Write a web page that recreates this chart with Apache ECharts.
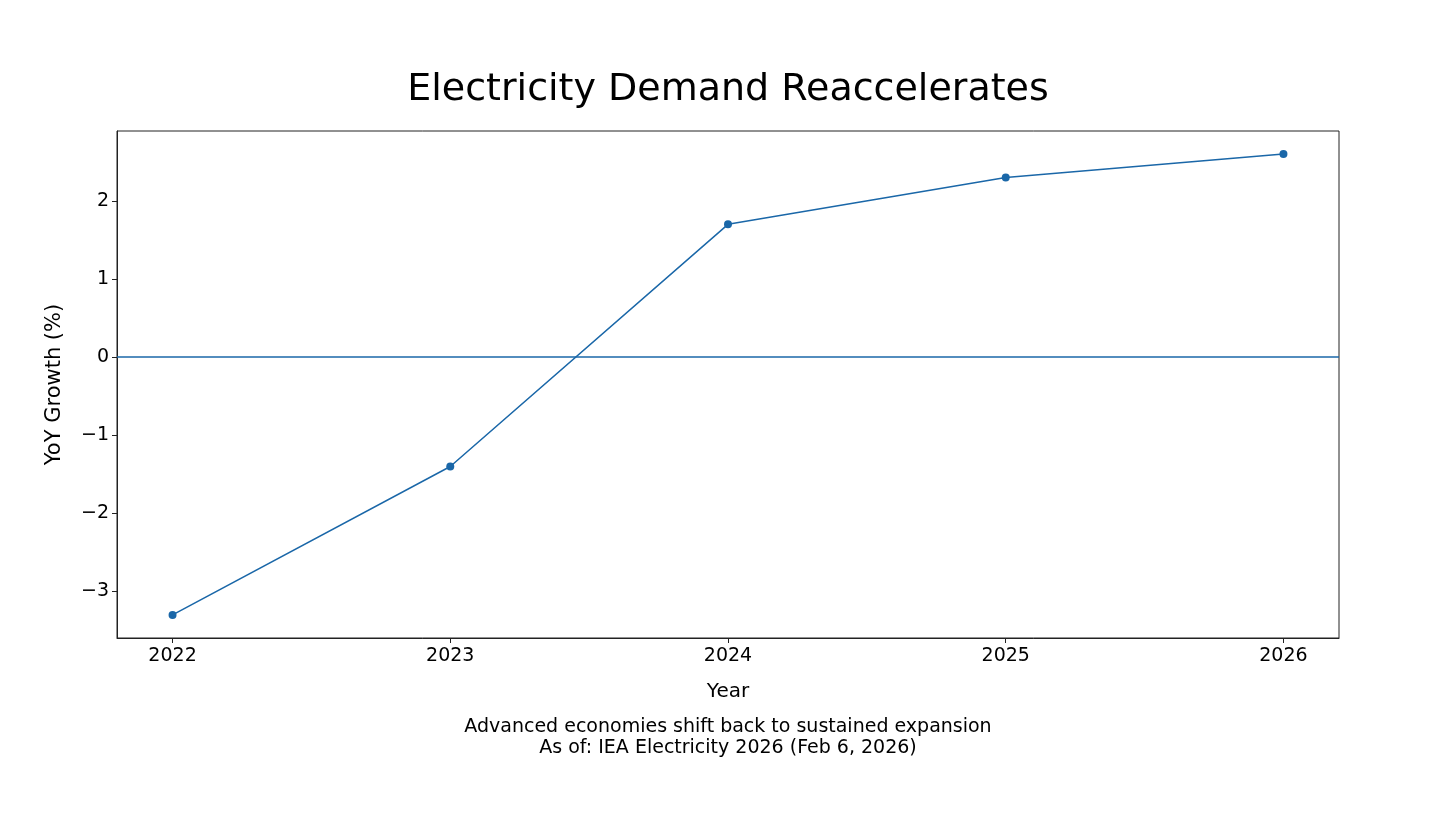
<!DOCTYPE html>
<html>
<head>
<meta charset="utf-8">
<script src="https://cdn.jsdelivr.net/npm/echarts@6/dist/echarts.min.js"></script>
<style>
html,body{margin:0;padding:0;background:#fff;}
#chart{width:1456px;height:819px;}
</style>
</head>
<body>
<div id="chart"></div>
<script>
const years = [2022, 2023, 2024, 2025, 2026];
const growth = [-3.3, -1.4, 1.7, 2.3, 2.6];
const xTicks = [2022, 2023, 2024, 2025, 2026];
const yTicks = [-3, -2, -1, 0, 1, 2];
const titleText = 'Electricity Demand Reaccelerates';
const subtitleLines = ['Advanced economies shift back to sustained expansion', 'As of: IEA Electricity 2026 (Feb 6, 2026)'];

const FONT = 'DejaVu Sans';
const BLUE = '#1a67a8';
const chart = echarts.init(document.getElementById('chart'), null, {renderer: 'canvas'});
const fmt = v => v < 0 ? '\u2212' + Math.abs(v) : String(v);

chart.setOption({
  animation: false,
  backgroundColor: '#fff',
  title: [
    {text: titleText, left: 'center', top: 66, textStyle: {fontFamily: FONT, fontSize: 38, fontWeight: 'normal', color: '#000'}},
    {text: 'Year', left: 'center', top: 677, textStyle: {fontFamily: FONT, fontSize: 20, fontWeight: 'normal', color: '#000'}},
    {text: subtitleLines.join('\n'), left: 'center', top: 712,
     textStyle: {fontFamily: FONT, fontSize: 19, fontWeight: 'normal', color: '#000', lineHeight: 21, align: 'center'}}
  ],
  grid: {left: 117, right: 117, top: 131, bottom: 181, show: true, borderColor: '#222', borderWidth: 1, backgroundColor: 'transparent'},
  xAxis: {
    type: 'value', min: 2021.8, max: 2026.2,
    splitLine: {show: false},
    axisLine: {show: true, onZero: false, lineStyle: {color: '#222', width: 1}},
    axisTick: {show: true, inside: false, length: 5, lineStyle: {color: '#222'}, customValues: xTicks},
    axisLabel: {customValues: xTicks, fontFamily: FONT, fontSize: 19, color: '#000', margin: 9, formatter: v => String(v)}
  },
  yAxis: {
    type: 'value', min: -3.595, max: 2.895,
    name: 'YoY Growth (%)', nameLocation: 'middle', nameGap: 52, nameRotate: 90,
    nameTextStyle: {fontFamily: FONT, fontSize: 21, color: '#000'},
    splitLine: {show: false},
    axisLine: {show: true, onZero: false, lineStyle: {color: '#222', width: 1}},
    axisTick: {show: true, inside: false, length: 5, lineStyle: {color: '#222'}, customValues: yTicks},
    axisLabel: {customValues: yTicks, fontFamily: FONT, fontSize: 19, color: '#000', margin: 8, formatter: fmt}
  },
  series: [{
    type: 'line',
    data: years.map((y, i) => [y, growth[i]]),
    symbol: 'circle', symbolSize: 8,
    lineStyle: {color: BLUE, width: 1.5},
    itemStyle: {color: BLUE},
    markLine: {
      silent: true, symbol: ['none', 'none'], label: {show: false},
      lineStyle: {color: BLUE, width: 1.5, type: 'solid'},
      data: [{yAxis: 0}]
    }
  }]
});
</script>
</body>
</html>
